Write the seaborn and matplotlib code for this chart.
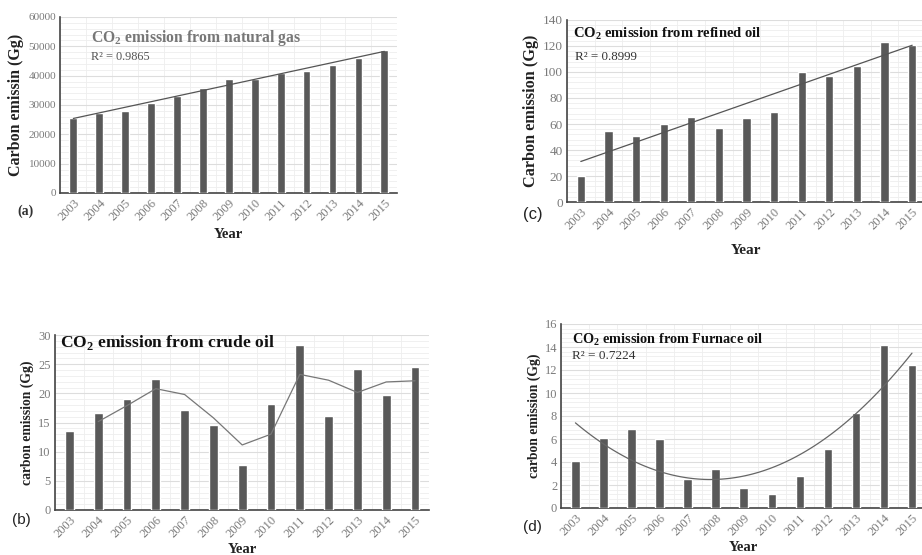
import numpy as np
import pandas as pd
import matplotlib
matplotlib.use("Agg")
import matplotlib.pyplot as plt
from matplotlib.ticker import MultipleLocator
import seaborn as sns

years = [str(y) for y in range(2003, 2016)]
natural_gas = [25500, 27300, 28000, 30800, 33000, 35800, 38700, 39000, 41000, 41500, 43700, 46000, 48700]
refined_oil = [20.2, 54.8, 50.4, 59.9, 65.3, 56.6, 64.3, 69.4, 99.7, 96.7, 104.9, 123.1, 121.0]
crude_oil = [13.6, 16.7, 19.1, 22.5, 17.1, 14.5, 7.8, 18.2, 28.3, 16.2, 24.1, 19.8, 24.5]
furnace_oil = [4.12, 6.1, 6.9, 5.97, 2.52, 3.42, 1.71, 1.22, 2.75, 5.16, 8.29, 14.2, 12.46]

sns.set_theme(style="white")
plt.rcParams['font.family'] = ['Liberation Serif', 'DejaVu Serif']
plt.rcParams['mathtext.fontset'] = 'custom'
plt.rcParams['mathtext.rm'] = 'Liberation Serif'
plt.rcParams['mathtext.bf'] = 'Liberation Serif:bold'

fig = plt.figure(figsize=(9.22, 5.55), dpi=100)

def px(l, r, t, b):
    return [l / 922, 1 - b / 555, (r - l) / 922, (b - t) / 555]

BAR = '#595959'
TICK = '#7a7a7a'
SANS = ['Liberation Sans', 'DejaVu Sans']

def panel(rect, values, ymax, ystep, tickfs, ytickfs):
    ax = fig.add_axes(rect)
    df = pd.DataFrame({'year': years, 'val': values})
    sns.barplot(data=df, x='year', y='val', color=BAR, width=0.3, ax=ax,
                saturation=1, zorder=3)
    ax.set_xlim(-0.5, len(years) - 0.5)
    ax.set_ylim(0, ymax)
    ax.yaxis.set_major_locator(MultipleLocator(ystep))
    ax.yaxis.set_minor_locator(MultipleLocator(ystep / 5))
    ax.set_xticks(np.arange(-0.5, len(years), 1.0), minor=True)
    ax.grid(True, which='major', axis='y', color='#dddddd', lw=0.8, zorder=0)
    ax.grid(True, which='minor', axis='both', color='#eeeeee', lw=0.6, zorder=0)
    for s in ['top', 'right']:
        ax.spines[s].set_visible(False)
    for s in ['left', 'bottom']:
        ax.spines[s].set_color('#444444')
        ax.spines[s].set_linewidth(1.2)
    ax.tick_params(axis='both', which='both', length=0, pad=3)
    ax.tick_params(axis='x', labelsize=tickfs, labelcolor=TICK, rotation=45)
    ax.tick_params(axis='y', labelsize=ytickfs, labelcolor=TICK)
    for lab in ax.get_xticklabels():
        lab.set_ha('right')
        lab.set_rotation_mode('anchor')
    return ax, df

def labels(ax, ylabel, ylfs, xlfs=10.5, xpad=2):
    ax.set_xlabel('Year', fontsize=xlfs, fontweight='bold', color='#222222', labelpad=xpad)
    ax.set_ylabel(ylabel, fontsize=ylfs, fontweight='bold', color='#222222', labelpad=3)

# (a) natural gas
ax, df = panel(px(60.4, 397.3, 17, 193), natural_gas, 60000, 10000, 9, 8)
sns.regplot(x=np.arange(len(years)), y=np.array(natural_gas), scatter=False, ci=None,
            order=1, ax=ax, line_kws=dict(color='#555555', lw=0.9, zorder=4))
labels(ax, 'Carbon emissin (Gg)', 11.5, 10.5, 3)
fig.text(91 / 922, 1 - 38 / 555, r'CO$_\mathbf{2}$ emission from natural gas', fontsize=11.3,
         fontweight='bold', color='#777777', va='center')
fig.text(91 / 922, 1 - 57 / 555, 'R² = 0.9865', fontsize=8.8, color='#555555', va='center')
fig.text(17 / 922, 1 - 211 / 555, '(a)', fontsize=10, fontweight='bold', color='#333333', va='center')

# (c) refined oil
ax, df = panel(px(567, 926, 20, 202), refined_oil, 140, 20, 9, 9.5)
sns.regplot(x=np.arange(len(years)), y=np.array(refined_oil), scatter=False, ci=None,
            order=1, ax=ax, line_kws=dict(color='#555555', lw=0.9, zorder=4))
labels(ax, 'Carbon emission (Gg)', 11.7, 11, 8)
fig.text(573 / 922, 1 - 34 / 555, r'CO$_\mathbf{2}$ emission from refined oil', fontsize=10.5,
         fontweight='bold', color='#111111', va='center')
fig.text(575 / 922, 1 - 57 / 555, 'R² = 0.8999', fontsize=9.4, color='#333333', va='center')
fig.text(523 / 922, 1 - 215 / 555, '(c)', fontsize=12, color='#222222', va='center', family=SANS)

# (b) crude oil
ax, df = panel(px(55, 429.4, 335, 510), crude_oil, 30, 5, 9, 9)
ma = df['val'].rolling(2).mean()
sns.lineplot(x=np.arange(len(years)), y=ma.values, ax=ax, color='#777777', lw=0.9, zorder=4)
labels(ax, 'carbon emission (Gg)', 9.8)
fig.text(60 / 922, 1 - 343 / 555, r'CO$_\mathbf{2}$ emission from crude oil', fontsize=12.6,
         fontweight='bold', color='#111111', va='center')
fig.text(12 / 922, 1 - 520 / 555, '(b)', fontsize=11, color='#222222', va='center', family=SANS)

# (d) furnace oil
ax, df = panel(px(561.4, 926, 324, 508), furnace_oil, 16, 2, 9, 9)
sns.regplot(x=np.arange(len(years)), y=np.array(furnace_oil), scatter=False, ci=None,
            order=2, ax=ax, line_kws=dict(color='#666666', lw=0.9, zorder=4))
labels(ax, 'carbon emission (Gg)', 9.8)
fig.text(572 / 922, 1 - 340 / 555, r'CO$_\mathbf{2}$ emission from Furnace oil', fontsize=10.3,
         fontweight='bold', color='#111111', va='center')
fig.text(572 / 922, 1 - 356 / 555, 'R² = 0.7224', fontsize=9.5, color='#333333', va='center')
fig.text(523 / 922, 1 - 527 / 555, '(d)', fontsize=11, color='#222222', va='center', family=SANS)

fig.savefig('out.png', dpi=100)
